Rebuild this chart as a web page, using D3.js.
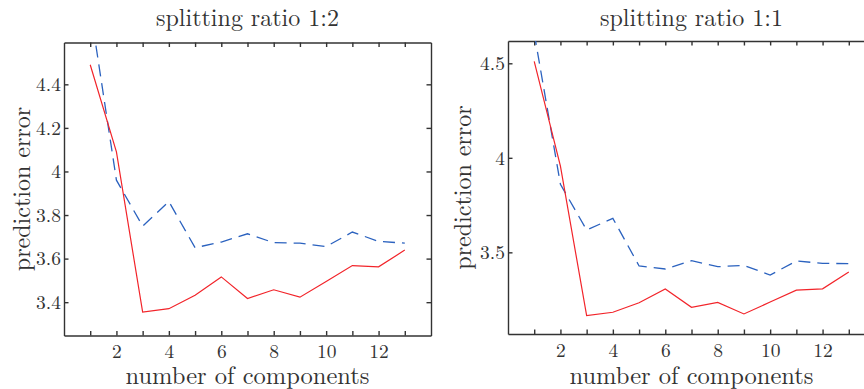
<!DOCTYPE html>
<html lang="en">
<head>
    <meta charset="UTF-8">
    <title>Prediction error vs number of components</title>
    <style>
        body {
            margin: 0;
            background: #fff;
            overflow: hidden;
        }

        .axis path,
        .axis line {
            stroke: #333;
            stroke-width: 1.4;
        }
    </style>
</head>
<body>
<script src="https://d3js.org/d3.v7.min.js"></script>
<script>
    // Number of components (x values)
    const components = [1, 2, 3, 4, 5, 6, 7, 8, 9, 10, 11, 12, 13];
    const xTickValues = [1, 2, 3, 4, 5, 6, 7, 8, 9, 10, 11, 12, 13];
    const xTickLabels = [2, 4, 6, 8, 10, 12];

    // Splitting ratio 1:2
    const leftSolid = [4.49, 4.09, 3.354, 3.37, 3.432, 3.516, 3.417, 3.457, 3.423, 3.495, 3.568, 3.562, 3.639];
    const leftDashed = [4.75, 3.96, 3.749, 3.862, 3.65, 3.676, 3.714, 3.673, 3.671, 3.655, 3.722, 3.679, 3.671];
    const leftYTicks = [3.4, 3.6, 3.8, 4, 4.2, 4.4];

    // Splitting ratio 1:1
    const rightSolid = [4.51, 3.956, 3.165, 3.183, 3.233, 3.306, 3.209, 3.235, 3.174, 3.237, 3.30, 3.307, 3.396];
    const rightDashed = [4.66, 3.86, 3.618, 3.68, 3.428, 3.412, 3.456, 3.424, 3.431, 3.38, 3.454, 3.442, 3.44];
    const rightYTicks = [3.5, 4, 4.5];

    const width = 864;
    const height = 389;
    const serif = "'Latin Modern Roman', 'CMU Serif', 'Liberation Serif', serif";
    const textColor = "#333";

    const svg = d3.select("body")
        .append("svg")
        .attr("width", width)
        .attr("height", height);

    const panels = [
        {
            title: "splitting ratio 1:2",
            left: 64, top: 42.5, bottom: 335.5,
            yDomain: [3.247, 4.592],
            yTicks: leftYTicks,
            solid: leftSolid,
            dashed: leftDashed,
            yLabelX: 30
        },
        {
            title: "splitting ratio 1:1",
            left: 508, top: 41, bottom: 334,
            yDomain: [3.068, 4.618],
            yTicks: rightYTicks,
            solid: rightSolid,
            dashed: rightDashed,
            yLabelX: 471
        }
    ];

    const plotWidth = 367;

    panels.forEach((p, i) => {
        const h = p.bottom - p.top;

        const x = d3.scaleLinear().domain([0, 14]).range([0, plotWidth]);
        const y = d3.scaleLinear().domain(p.yDomain).range([h, 0]);

        const g = svg.append("g")
            .attr("transform", "translate(" + p.left + "," + p.top + ")");

        // clip lines to the plot area
        g.append("clipPath")
            .attr("id", "clip" + i)
            .append("rect")
            .attr("width", plotWidth)
            .attr("height", h);

        // bottom axis, labels only on even components
        const xBottom = g.append("g")
            .attr("class", "axis")
            .attr("transform", "translate(0," + h + ")")
            .call(d3.axisBottom(x)
                .tickValues(xTickValues)
                .tickSizeInner(-4.5)
                .tickSizeOuter(0)
                .tickPadding(9)
                .tickFormat(d => d));
        xBottom.selectAll(".tick text")
            .filter(d => !xTickLabels.includes(d))
            .remove();
        xBottom.selectAll("text")
            .style("font-family", serif)
            .style("font-size", "19.5px")
            .style("fill", textColor);

        // top axis
        g.append("g")
            .attr("class", "axis")
            .call(d3.axisTop(x)
                .tickValues(xTickValues)
                .tickSizeInner(-4.5)
                .tickSizeOuter(0))
            .selectAll("text").remove();

        // left axis with labels
        const yLeft = g.append("g")
            .attr("class", "axis")
            .call(d3.axisLeft(y)
                .tickValues(p.yTicks)
                .tickSizeInner(-4.5)
                .tickSizeOuter(0)
                .tickPadding(3)
                .tickFormat(d => d3.format("")(d)));
        yLeft.selectAll("text")
            .style("font-family", serif)
            .style("font-size", "19.5px")
            .style("fill", textColor);

        // right axis
        g.append("g")
            .attr("class", "axis")
            .attr("transform", "translate(" + plotWidth + ",0)")
            .call(d3.axisRight(y)
                .tickValues(p.yTicks)
                .tickSizeInner(-4.5)
                .tickSizeOuter(0))
            .selectAll("text").remove();

        const line = d3.line()
            .x((d, j) => x(components[j]))
            .y(d => y(d));

        const lines = g.append("g").attr("clip-path", "url(#clip" + i + ")");

        lines.append("path")
            .datum(p.dashed)
            .attr("fill", "none")
            .attr("stroke", "#2b62bf")
            .attr("stroke-width", 1.3)
            .attr("stroke-dasharray", "12,7")
            .attr("d", line);

        lines.append("path")
            .datum(p.solid)
            .attr("fill", "none")
            .attr("stroke", "#f2242a")
            .attr("stroke-width", 1.2)
            .attr("d", line);

        // title
        svg.append("text")
            .attr("x", p.left + plotWidth / 2)
            .attr("y", 26)
            .attr("text-anchor", "middle")
            .style("font-family", serif)
            .style("font-size", "24px")
            .style("fill", textColor)
            .text(p.title);

        // x label
        svg.append("text")
            .attr("x", p.left + plotWidth / 2)
            .attr("y", 383.5)
            .attr("text-anchor", "middle")
            .style("font-family", serif)
            .style("font-size", "24.5px")
            .style("fill", textColor)
            .text("number of components");

        // y label
        svg.append("text")
            .attr("transform", "translate(" + p.yLabelX + "," + (p.top + h / 2) + ") rotate(-90)")
            .attr("text-anchor", "middle")
            .style("font-family", serif)
            .style("font-size", "24px")
            .style("fill", textColor)
            .text("prediction error");
    });
</script>
</body>
</html>
